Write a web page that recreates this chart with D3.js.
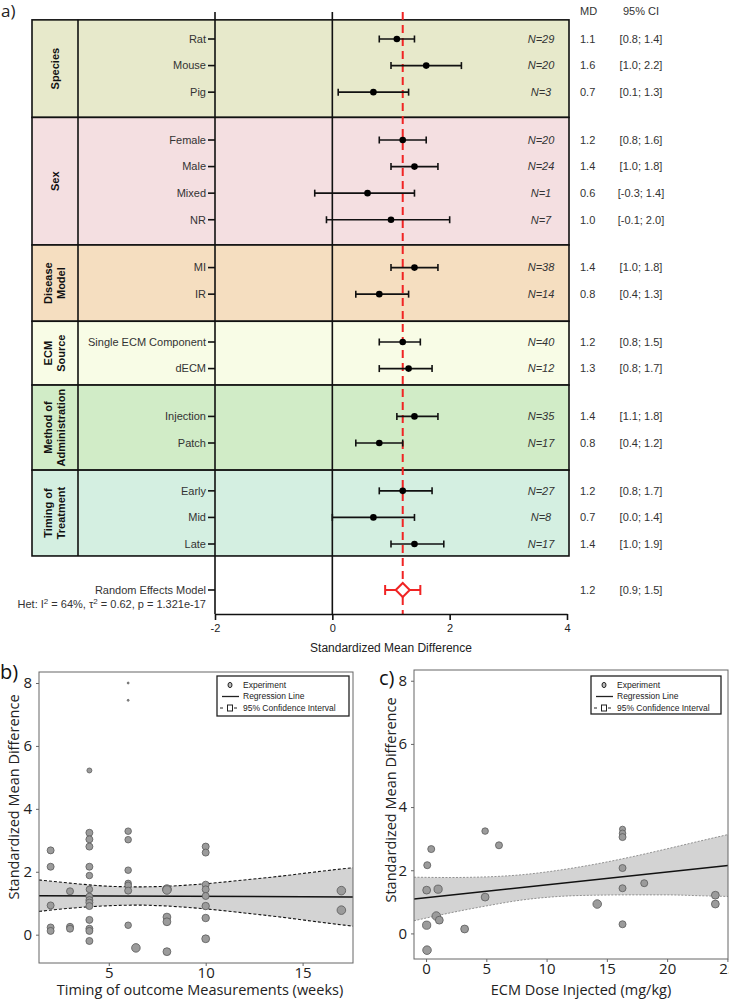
<!DOCTYPE html>
<html>
<head>
<meta charset="utf-8">
<script src="https://cdn.jsdelivr.net/npm/d3@7"></script>
<style>
	body { margin: 0; background: #fff; }
	svg { display: block; }
</style>
</head>
<body>
<div id="chart"></div>
<script>
///////////////////////////////////////////////////////////////////////////
//////////////////////////// data /////////////////////////////////////////
///////////////////////////////////////////////////////////////////////////

// a) forest plot
const groups = ["Species", "Sex", "Disease Model", "ECM Source", "Method of Administration", "Timing of Treatment"];
const groupLines = [["Species"], ["Sex"], ["Disease", "Model"], ["ECM", "Source"], ["Method of", "Administration"], ["Timing of", "Treatment"]];
const groupColors = ["#e7e9cb", "#f4dfe1", "#f5dec0", "#f8fce6", "#d1ecc7", "#d4efe1"];

const subgroups = ["Rat", "Mouse", "Pig", "Female", "Male", "Mixed", "NR", "MI", "IR",
	"Single ECM Component", "dECM", "Injection", "Patch", "Early", "Mid", "Late"];
const subgroupGroup = [0, 0, 0, 1, 1, 1, 1, 2, 2, 3, 3, 4, 4, 5, 5, 5];
const md = [1.1, 1.6, 0.7, 1.2, 1.4, 0.6, 1.0, 1.4, 0.8, 1.2, 1.3, 1.4, 0.8, 1.2, 0.7, 1.4];
const ciLow = [0.8, 1.0, 0.1, 0.8, 1.0, -0.3, -0.1, 1.0, 0.4, 0.8, 0.8, 1.1, 0.4, 0.8, 0.0, 1.0];
const ciHigh = [1.4, 2.2, 1.3, 1.6, 1.8, 1.4, 2.0, 1.8, 1.3, 1.5, 1.7, 1.8, 1.2, 1.7, 1.4, 1.9];
const nStudies = [29, 20, 3, 20, 24, 1, 7, 38, 14, 40, 12, 35, 17, 27, 8, 17];

const pooledMD = 1.2;
const pooledCI = [0.9, 1.5];
const forestTicks = [-2, 0, 2, 4];

// b) timing of outcome measurements
const timingWeeks = [2, 2, 2, 2, 2, 3, 3, 3,
	4, 4, 4, 4, 4, 4, 4, 4, 4, 4, 4, 4, 4, 4, 4,
	6, 6, 6, 6, 6, 6, 6, 6, 6, 6.4,
	8, 8, 8, 8, 8, 10, 10, 10, 10, 10, 10, 10, 10, 17, 17];
const timingSMD = [2.68, 2.16, 0.93, 0.23, 0.12, 1.38, 0.25, 0.19,
	5.22, 3.24, 3.03, 2.80, 2.16, 1.88, 1.44, 1.21, 1.10, 1.02, 0.91, 0.47, 0.19, 0.12, -0.20,
	8.0, 7.45, 3.29, 3.02, 2.05, 1.63, 1.57, 1.40, 0.30, -0.42,
	1.45, 1.42, 0.56, 0.41, -0.54, 2.80, 2.61, 1.59, 1.44, 1.23, 0.91, 0.53, -0.13, 1.40, 0.78];
const timingWeight = [8, 8, 8, 8, 8, 8, 8, 8,
	4, 8, 8, 8, 8, 7, 7, 8, 8, 8, 8, 8, 8, 8, 8,
	0.6, 0.6, 7, 7, 7, 7, 7, 8, 7, 12,
	12, 12, 10, 10, 10, 8, 8, 8, 8, 8, 9, 9, 10, 12, 12];
const timingRegX = [1.4, 17.6];
const timingRegY = [1.24, 1.20];
const timingCIX = [1.4, 3, 5, 6.5, 8, 10, 12, 14, 16, 17.6];
const timingCIUp = [1.74, 1.64, 1.54, 1.52, 1.54, 1.62, 1.74, 1.87, 2.02, 2.13];
const timingCILo = [0.74, 0.84, 0.92, 0.94, 0.91, 0.82, 0.69, 0.55, 0.39, 0.27];

// c) ECM dose
const doseMg = [0.08, 0.05, 0.05, 0.1, 0.43, 0.85, 1.1, 1.0, 3.2, 4.9, 4.9, 6.05,
	14.2, 16.3, 16.3, 16.3, 16.3, 16.3, 16.3, 18.1, 24.0, 24.0];
const doseSMD = [-0.53, 0.26, 1.37, 2.16, 2.67, 0.55, 0.42, 1.40, 0.14, 3.24, 1.15, 2.79,
	0.93, 3.30, 3.17, 3.05, 2.07, 1.43, 0.29, 1.59, 1.21, 0.93];
const doseWeight = [12, 11, 10, 8, 8, 12, 10, 11, 10, 7, 10, 8,
	12, 6, 7, 8, 8, 8, 8, 8, 10, 10];
const doseRegX = [-1, 25.05];
const doseRegY = [1.09, 2.15];
const doseCIX = [-1, 2, 5, 8, 11, 14, 17, 20, 23, 25.05];
const doseCIUp = [1.78, 1.77, 1.79, 1.86, 2.00, 2.19, 2.42, 2.68, 2.95, 3.13];
const doseCILo = [0.40, 0.65, 0.87, 1.06, 1.17, 1.21, 1.22, 1.22, 1.19, 1.17];

const scatterYTicks = [0, 2, 4, 6, 8];

///////////////////////////////////////////////////////////////////////////
//////////////////////////// svg //////////////////////////////////////////
///////////////////////////////////////////////////////////////////////////

const svg = d3.select("#chart").append("svg").attr("width", 729).attr("height", 1000);

///////////////////////////////////////////////////////////////////////////
//////////////////////////// a) forest plot ///////////////////////////////
///////////////////////////////////////////////////////////////////////////

const fa = svg.append("g").attr("font-family", "'Liberation Sans', Arial, sans-serif");

const tableLeft = 32;
const groupDivider = 78;
const lineTop = 12;
const axisY = 614;

const xF = d3.scaleLinear().domain([-2, 4]).range([215, 567]);
const tableRight = xF(4) + 2;

// slot per row: each row one unit, extra gap between groups
const slot = subgroups.map((d, i) => i + 0.8 * subgroupGroup[i]);
const lastSlot = slot[slot.length - 1];
const yF = d3.scaleLinear().domain([0, lastSlot]).range([39, 544]);
const unit = yF(1) - yF(0);
const reY = yF(lastSlot + 1.73);

const padTop = 0.72;
const padBottom = [0.95, 0.95, 1.02, 0.62, 1.02, 0.45];

let prevBottom = yF(0) - padTop * unit;
const bands = groups.map((g, gi) => {
	const rows = slot.filter((s, i) => subgroupGroup[i] === gi);
	const top = prevBottom;
	const bottom = yF(d3.max(rows)) + padBottom[gi] * unit;
	prevBottom = bottom;
	return { name: g, lines: groupLines[gi], color: groupColors[gi], top, bottom };
});

// bands
fa.selectAll(".band")
	.data(bands)
	.enter()
	.append("rect")
	.attr("class", "band")
	.attr("x", tableLeft)
	.attr("y", (d) => d.top)
	.attr("width", tableRight - tableLeft)
	.attr("height", (d) => d.bottom - d.top)
	.attr("fill", (d) => d.color)
	.attr("stroke", "#111")
	.attr("stroke-width", 1.6);

fa.append("line")
	.attr("x1", groupDivider).attr("x2", groupDivider)
	.attr("y1", bands[0].top).attr("y2", bands[bands.length - 1].bottom)
	.attr("stroke", "#111").attr("stroke-width", 1.6);

// group labels (rotated)
bands.forEach((b) => {
	const mid = (b.top + b.bottom) / 2;
	b.lines.forEach((ln, j) => {
		const cx = (tableLeft + groupDivider) / 2 + (j - (b.lines.length - 1) / 2) * 13;
		fa.append("text")
			.attr("transform", `translate(${cx},${mid}) rotate(-90)`)
			.attr("text-anchor", "middle")
			.attr("dy", "0.35em")
			.attr("font-size", 11)
			.attr("font-weight", "bold")
			.attr("fill", "#111")
			.text(ln);
	});
});

// vertical reference lines
fa.selectAll(".vline")
	.data([-2, 0])
	.enter()
	.append("line")
	.attr("x1", (d) => xF(d)).attr("x2", (d) => xF(d))
	.attr("y1", lineTop).attr("y2", axisY)
	.attr("stroke", "#111").attr("stroke-width", 1.6);

// pooled dashed line
fa.append("line")
	.attr("x1", xF(pooledMD)).attr("x2", xF(pooledMD))
	.attr("y1", lineTop).attr("y2", axisY)
	.attr("stroke", "#f02424").attr("stroke-width", 2)
	.attr("stroke-dasharray", "8,5");

// x axis
const axisF = fa.append("g")
	.attr("transform", `translate(0,${axisY})`)
	.call(d3.axisBottom(xF).tickValues(forestTicks).tickSize(6).tickSizeOuter(0).tickPadding(4)
		.tickFormat((d) => String(d)));
axisF.select(".domain").attr("stroke", "#111").attr("stroke-width", 1.6);
axisF.selectAll(".tick line").attr("stroke", "#111").attr("stroke-width", 1.6);
axisF.selectAll(".tick text").attr("font-size", 11).attr("fill", "#222")
	.attr("font-family", "'Liberation Sans', Arial, sans-serif");

fa.append("text")
	.attr("x", xF(1)).attr("y", 652)
	.attr("text-anchor", "middle").attr("font-size", 12).attr("fill", "#222")
	.text("Standardized Mean Difference");

// rows
const rows = subgroups.map((s, i) => ({
	name: s, y: yF(slot[i]), md: md[i], lo: ciLow[i], hi: ciHigh[i], n: nStudies[i]
}));

const rowG = fa.selectAll(".row").data(rows).enter().append("g").attr("class", "row");

rowG.append("line")
	.attr("x1", xF(-2) - 7).attr("x2", xF(-2))
	.attr("y1", (d) => d.y).attr("y2", (d) => d.y)
	.attr("stroke", "#111").attr("stroke-width", 1.6);

rowG.append("text")
	.attr("x", xF(-2) - 9).attr("y", (d) => d.y)
	.attr("dy", "0.35em").attr("text-anchor", "end")
	.attr("font-size", 11).attr("fill", "#333")
	.text((d) => d.name);

rowG.append("line")
	.attr("x1", (d) => xF(d.lo)).attr("x2", (d) => xF(d.hi))
	.attr("y1", (d) => d.y).attr("y2", (d) => d.y)
	.attr("stroke", "#111").attr("stroke-width", 1.6);

["lo", "hi"].forEach((k) => {
	rowG.append("line")
		.attr("x1", (d) => xF(d[k])).attr("x2", (d) => xF(d[k]))
		.attr("y1", (d) => d.y - 3.5).attr("y2", (d) => d.y + 3.5)
		.attr("stroke", "#111").attr("stroke-width", 1.6);
});

rowG.append("circle")
	.attr("cx", (d) => xF(d.md)).attr("cy", (d) => d.y)
	.attr("r", 3.3).attr("fill", "#000");

rowG.append("text")
	.attr("x", 541).attr("y", (d) => d.y)
	.attr("dy", "0.35em").attr("text-anchor", "middle")
	.attr("font-size", 11).attr("font-style", "italic").attr("fill", "#333")
	.text((d) => "N=" + d.n);

rowG.append("text")
	.attr("x", 580).attr("y", (d) => d.y)
	.attr("dy", "0.35em")
	.attr("font-size", 11).attr("fill", "#333")
	.text((d) => d.md.toFixed(1));

rowG.append("text")
	.attr("x", 641).attr("y", (d) => d.y)
	.attr("dy", "0.35em").attr("text-anchor", "middle")
	.attr("font-size", 11).attr("fill", "#333")
	.text((d) => `[${d.lo.toFixed(1)}; ${d.hi.toFixed(1)}]`);

// headers
fa.append("text").attr("x", 580).attr("y", 11).attr("dy", "0.35em")
	.attr("font-size", 11).attr("fill", "#333").text("MD");
fa.append("text").attr("x", 641).attr("y", 11).attr("dy", "0.35em")
	.attr("text-anchor", "middle").attr("font-size", 11).attr("fill", "#333").text("95% CI");

// random effects row
fa.append("line")
	.attr("x1", xF(-2) - 7).attr("x2", xF(-2))
	.attr("y1", reY).attr("y2", reY)
	.attr("stroke", "#111").attr("stroke-width", 1.6);
fa.append("text")
	.attr("x", xF(-2) - 9).attr("y", reY).attr("dy", "0.35em")
	.attr("text-anchor", "end").attr("font-size", 11).attr("fill", "#333")
	.text("Random Effects Model");

const het = fa.append("text")
	.attr("x", xF(-2) - 9).attr("y", reY + 14).attr("dy", "0.35em")
	.attr("text-anchor", "end").attr("font-size", 11).attr("fill", "#333");
het.append("tspan").text("Het: I");
het.append("tspan").attr("dy", -4).attr("font-size", 8).text("2");
het.append("tspan").attr("dy", 4).text(" = 64%, \u03c4");
het.append("tspan").attr("dy", -4).attr("font-size", 8).text("2");
het.append("tspan").attr("dy", 4).text(" = 0.62, p = 1.321e-17");

fa.append("line")
	.attr("x1", xF(pooledCI[0])).attr("x2", xF(pooledCI[1]))
	.attr("y1", reY).attr("y2", reY)
	.attr("stroke", "#f02424").attr("stroke-width", 2);
pooledCI.forEach((v) => {
	fa.append("line")
		.attr("x1", xF(v)).attr("x2", xF(v))
		.attr("y1", reY - 5).attr("y2", reY + 5)
		.attr("stroke", "#f02424").attr("stroke-width", 2);
});
const dx = 7, dy = 7;
const px = xF(pooledMD);
fa.append("path")
	.attr("d", `M${px - dx},${reY}L${px},${reY - dy}L${px + dx},${reY}L${px},${reY + dy}Z`)
	.attr("fill", "#fff").attr("stroke", "#f02424").attr("stroke-width", 2);

fa.append("text").attr("x", 580).attr("y", reY).attr("dy", "0.35em")
	.attr("font-size", 11).attr("fill", "#333").text(pooledMD.toFixed(1));
fa.append("text").attr("x", 641).attr("y", reY).attr("dy", "0.35em")
	.attr("text-anchor", "middle").attr("font-size", 11).attr("fill", "#333")
	.text(`[${pooledCI[0].toFixed(1)}; ${pooledCI[1].toFixed(1)}]`);

svg.append("text").attr("x", 1).attr("y", 17)
	.attr("font-family", "'Open Sans', sans-serif").attr("font-size", 17).attr("fill", "#222")
	.text("a)");

///////////////////////////////////////////////////////////////////////////
//////////////////////////// b) and c) scatter panels /////////////////////
///////////////////////////////////////////////////////////////////////////

const rScale = d3.scaleSqrt().domain([0, 12]).range([0, 4.3]);

const scatterPanel = (p) => {
	const g = svg.append("g").attr("font-family", "'Open Sans', sans-serif");
	const x = d3.scaleLinear().domain(p.xDomain).range([p.left, p.right]);
	const y = d3.scaleLinear().domain(p.yDomain).range([p.bottom, p.top]);

	const clipId = "clip-" + p.id;
	g.append("clipPath").attr("id", clipId)
		.append("rect")
		.attr("x", p.left).attr("y", p.top)
		.attr("width", p.right - p.left).attr("height", p.bottom - p.top);

	const plot = g.append("g").attr("clip-path", `url(#${clipId})`);

	const band = p.ciX.map((v, i) => ({ x: v, up: p.ciUp[i], lo: p.ciLo[i] }));
	plot.append("path")
		.datum(band)
		.attr("d", d3.area().x((d) => x(d.x)).y0((d) => y(d.lo)).y1((d) => y(d.up)).curve(d3.curveMonotoneX))
		.attr("fill", "#d3d3d3");
	["up", "lo"].forEach((k) => {
		plot.append("path")
			.datum(band)
			.attr("d", d3.line().x((d) => x(d.x)).y((d) => y(d[k])).curve(d3.curveMonotoneX))
			.attr("fill", "none")
			.attr("stroke", p.ciStroke)
			.attr("stroke-width", p.ciWidth)
			.attr("stroke-dasharray", p.ciDash);
	});

	plot.append("line")
		.attr("x1", x(p.regX[0])).attr("x2", x(p.regX[1]))
		.attr("y1", y(p.regY[0])).attr("y2", y(p.regY[1]))
		.attr("stroke", "#111").attr("stroke-width", 1.5);

	const pts = p.xs.map((v, i) => ({ x: v, y: p.ys[i], w: p.ws[i] }));
	plot.selectAll(".pt")
		.data(pts)
		.enter()
		.append("circle")
		.attr("class", "pt")
		.attr("cx", (d) => x(d.x))
		.attr("cy", (d) => y(d.y))
		.attr("r", (d) => rScale(d.w))
		.attr("fill", "#9b9b9b")
		.attr("stroke", "#5a5a5a")
		.attr("stroke-width", 0.8);

	g.append("rect")
		.attr("x", p.left).attr("y", p.top)
		.attr("width", p.right - p.left).attr("height", p.bottom - p.top)
		.attr("fill", "none").attr("stroke", "#666").attr("stroke-width", 1);

	const ax = g.append("g").attr("transform", `translate(0,${p.bottom})`)
		.call(d3.axisBottom(x).tickValues(p.xTicks).tickSize(3).tickPadding(1).tickFormat((d) => String(d)));
	const ay = g.append("g").attr("transform", `translate(${p.left},0)`)
		.call(d3.axisLeft(y).tickValues(scatterYTicks).tickSize(3).tickPadding(4).tickFormat((d) => String(d)));
	[ax, ay].forEach((a) => {
		a.select(".domain").remove();
		a.selectAll(".tick line").attr("stroke", "#666");
		a.selectAll(".tick text").attr("font-size", 15).attr("fill", "#222")
			.attr("font-family", "'Open Sans', sans-serif");
	});

	g.append("text")
		.attr("x", p.xTitleX).attr("y", 995)
		.attr("text-anchor", "middle").attr("font-size", 14.5).attr("fill", "#222")
		.text(p.xTitle);
	g.append("text")
		.attr("transform", `translate(${p.yTitleX},${p.yTitleY}) rotate(-90)`)
		.attr("text-anchor", "middle").attr("font-size", 14.5).attr("fill", "#222")
		.text("Standardized Mean Difference");

	g.append("text").attr("x", p.labelX).attr("y", p.labelY)
		.attr("font-size", 20).attr("fill", "#111").text(p.label);

	// legend
	const lg = g.append("g")
		.attr("font-family", "'Liberation Sans', Arial, sans-serif")
		.attr("font-size", 8.5).attr("fill", "#222");
	const L = p.legend;
	lg.append("rect")
		.attr("x", L.x).attr("y", L.y).attr("width", L.w).attr("height", L.h)
		.attr("fill", "#fff").attr("stroke", "#222").attr("stroke-width", 1.3);
	const rowY = [L.y + 9, L.y + 20.5, L.y + 32];
	const sx = L.x + 13;
	lg.append("ellipse").attr("cx", sx).attr("cy", rowY[0])
		.attr("rx", 2).attr("ry", 2.6).attr("fill", "#bbb").attr("stroke", "#222").attr("stroke-width", 1);
	lg.append("line").attr("x1", sx - 8).attr("x2", sx + 9).attr("y1", rowY[1]).attr("y2", rowY[1])
		.attr("stroke", "#222").attr("stroke-width", 1.3);
	lg.append("line").attr("x1", sx - 10).attr("x2", sx + 10).attr("y1", rowY[2]).attr("y2", rowY[2])
		.attr("stroke", "#222").attr("stroke-width", 1).attr("stroke-dasharray", "3,4").attr("stroke-dashoffset", 0);
	lg.append("rect").attr("x", sx - 2.5).attr("y", rowY[2] - 3).attr("width", 5).attr("height", 6)
		.attr("fill", "#fff").attr("stroke", "#222").attr("stroke-width", 1);
	["Experiment", "Regression Line", "95% Confidence Interval"].forEach((t, i) => {
		lg.append("text").attr("x", L.x + 26).attr("y", rowY[i]).attr("dy", "0.35em").text(t);
	});
};

scatterPanel({
	id: "b", label: "b)", labelX: 0, labelY: 679,
	left: 39, right: 353, top: 672, bottom: 963,
	xDomain: [1.4, 17.6], yDomain: [-0.9, 8.35], xTicks: [5, 10, 15],
	xs: timingWeeks, ys: timingSMD, ws: timingWeight,
	regX: timingRegX, regY: timingRegY,
	ciX: timingCIX, ciUp: timingCIUp, ciLo: timingCILo,
	ciStroke: "#111", ciWidth: 1.1, ciDash: "3,2",
	xTitle: "Timing of outcome Measurements (weeks)", xTitleX: 200,
	yTitleX: 19, yTitleY: 797,
	legend: { x: 217, y: 676, w: 132, h: 40 }
});

scatterPanel({
	id: "c", label: "c)", labelX: 379, labelY: 685,
	left: 414, right: 728, top: 670, bottom: 959,
	xDomain: [-1, 25.05], yDomain: [-0.81, 8.34], xTicks: [0, 5, 10, 15, 20, 25],
	xs: doseMg, ys: doseSMD, ws: doseWeight,
	regX: doseRegX, regY: doseRegY,
	ciX: doseCIX, ciUp: doseCIUp, ciLo: doseCILo,
	ciStroke: "#888", ciWidth: 0.9, ciDash: "2,1.5",
	xTitle: "ECM Dose Injected (mg/kg)", xTitleX: 581,
	yTitleX: 396, yTitleY: 800,
	legend: { x: 591, y: 676, w: 130, h: 38 }
});
</script>
</body>
</html>
